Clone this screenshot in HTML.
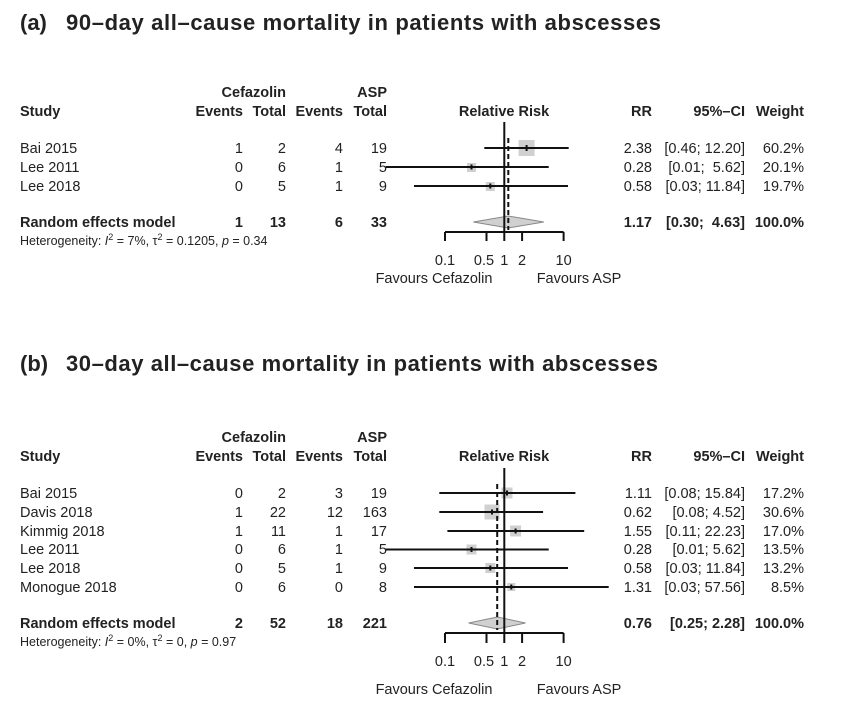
<!DOCTYPE html>
<html><head><meta charset="utf-8"><style>
body{margin:0;background:#fff}
svg{display:block;font-family:"Liberation Sans",Arial,sans-serif;fill:#222}
.b{font-weight:bold}
text{font-size:14.5px}
.t{font-size:22px;font-weight:bold}
.h{font-size:12.5px}
</style></head><body>
<svg width="862" height="706" viewBox="0 0 862 706" xmlns="http://www.w3.org/2000/svg">
<!-- Panel A -->
<text x="20" y="30" class="t">(a)</text>
<text x="66" y="30" class="t" textLength="595">90–day all–cause mortality in patients with abscesses</text>
<g class="b">
<text x="286" y="97" text-anchor="end">Cefazolin</text>
<text x="387" y="97" text-anchor="end">ASP</text>
<text x="20" y="116">Study</text>
<text x="243" y="116" text-anchor="end">Events</text>
<text x="286" y="116" text-anchor="end">Total</text>
<text x="343" y="116" text-anchor="end">Events</text>
<text x="387" y="116" text-anchor="end">Total</text>
<text x="504" y="116" text-anchor="middle">Relative Risk</text>
<text x="652" y="116" text-anchor="end">RR</text>
<text x="745" y="116" text-anchor="end">95%–CI</text>
<text x="804" y="116" text-anchor="end">Weight</text>
</g>
<g>
<text x="20" y="153">Bai 2015</text><text x="243" y="153" text-anchor="end">1</text><text x="286" y="153" text-anchor="end">2</text><text x="343" y="153" text-anchor="end">4</text><text x="387" y="153" text-anchor="end">19</text>
<text x="652" y="153" text-anchor="end">2.38</text><text x="745" y="153" text-anchor="end">[0.46; 12.20]</text><text x="804" y="153" text-anchor="end">60.2%</text>
<text x="20" y="172">Lee 2011</text><text x="243" y="172" text-anchor="end">0</text><text x="286" y="172" text-anchor="end">6</text><text x="343" y="172" text-anchor="end">1</text><text x="387" y="172" text-anchor="end">5</text>
<text x="652" y="172" text-anchor="end">0.28</text><text x="745" y="172" text-anchor="end" xml:space="preserve">[0.01;  5.62]</text><text x="804" y="172" text-anchor="end">20.1%</text>
<text x="20" y="191">Lee 2018</text><text x="243" y="191" text-anchor="end">0</text><text x="286" y="191" text-anchor="end">5</text><text x="343" y="191" text-anchor="end">1</text><text x="387" y="191" text-anchor="end">9</text>
<text x="652" y="191" text-anchor="end">0.58</text><text x="745" y="191" text-anchor="end">[0.03; 11.84]</text><text x="804" y="191" text-anchor="end">19.7%</text>
</g>
<g class="b">
<text x="20" y="227">Random effects model</text><text x="243" y="227" text-anchor="end">1</text><text x="286" y="227" text-anchor="end">13</text><text x="343" y="227" text-anchor="end">6</text><text x="387" y="227" text-anchor="end">33</text>
<text x="652" y="227" text-anchor="end">1.17</text><text x="745" y="227" text-anchor="end" xml:space="preserve">[0.30;  4.63]</text><text x="804" y="227" text-anchor="end">100.0%</text>
</g>
<text x="20" y="245" class="h">Heterogeneity: <tspan font-style="italic">I</tspan><tspan dy="-5" font-size="9">2</tspan><tspan dy="5"> = 7%, τ</tspan><tspan dy="-5" font-size="9">2</tspan><tspan dy="5"> = 0.1205, </tspan><tspan font-style="italic">p</tspan> = 0.34</text>
<g stroke="#111" stroke-width="2" fill="none">
<rect x="518.6" y="140" width="16" height="16" fill="#d0d0d0" stroke="none"/>
<rect x="467" y="163" width="9" height="9" fill="#d0d0d0" stroke="none"/>
<rect x="485.8" y="182" width="9" height="9" fill="#d0d0d0" stroke="none"/>
<line x1="484.3" y1="148" x2="568.7" y2="148"/><line x1="526.6" y1="145" x2="526.6" y2="151"/>
<line x1="385.7" y1="167" x2="548.7" y2="167"/><line x1="471.5" y1="164.5" x2="471.5" y2="169.5"/>
<line x1="414" y1="186" x2="568" y2="186"/><line x1="490.3" y1="183.5" x2="490.3" y2="188.5"/>
<polygon points="473.3,222 508.3,216 543.8,222 508.3,228" fill="#d0d0d0" stroke="#888" stroke-width="1"/>
<line x1="504.3" y1="122" x2="504.3" y2="232"/>
<line x1="508.3" y1="138" x2="508.3" y2="230" stroke-dasharray="5,3"/>
<line x1="445" y1="232" x2="563.6" y2="232"/>
<line x1="445" y1="232" x2="445" y2="241"/><line x1="486.5" y1="232" x2="486.5" y2="241"/><line x1="504.3" y1="232" x2="504.3" y2="241"/><line x1="522.1" y1="232" x2="522.1" y2="241"/><line x1="563.6" y1="232" x2="563.6" y2="241"/>
</g>
<g text-anchor="middle">
<text x="445" y="265">0.1</text><text x="484" y="265">0.5</text><text x="504.3" y="265">1</text><text x="522.1" y="265">2</text><text x="563.6" y="265">10</text>
</g>
<text x="434" y="283" text-anchor="middle">Favours Cefazolin</text>
<text x="579" y="283" text-anchor="middle">Favours ASP</text>

<!-- Panel B -->
<text x="20" y="371" class="t">(b)</text>
<text x="66" y="371" class="t" textLength="592">30–day all–cause mortality in patients with abscesses</text>
<g class="b">
<text x="286" y="442" text-anchor="end">Cefazolin</text>
<text x="387" y="442" text-anchor="end">ASP</text>
<text x="20" y="461">Study</text>
<text x="243" y="461" text-anchor="end">Events</text>
<text x="286" y="461" text-anchor="end">Total</text>
<text x="343" y="461" text-anchor="end">Events</text>
<text x="387" y="461" text-anchor="end">Total</text>
<text x="504" y="461" text-anchor="middle">Relative Risk</text>
<text x="652" y="461" text-anchor="end">RR</text>
<text x="745" y="461" text-anchor="end">95%–CI</text>
<text x="804" y="461" text-anchor="end">Weight</text>
</g>
<g xml:space="preserve">
<text x="20" y="498">Bai 2015</text><text x="243" y="498" text-anchor="end">0</text><text x="286" y="498" text-anchor="end">2</text><text x="343" y="498" text-anchor="end">3</text><text x="387" y="498" text-anchor="end">19</text>
<text x="652" y="498" text-anchor="end">1.11</text><text x="745" y="498" text-anchor="end">[0.08; 15.84]</text><text x="804" y="498" text-anchor="end">17.2%</text>
<text x="20" y="517">Davis 2018</text><text x="243" y="517" text-anchor="end">1</text><text x="286" y="517" text-anchor="end">22</text><text x="343" y="517" text-anchor="end">12</text><text x="387" y="517" text-anchor="end">163</text>
<text x="652" y="517" text-anchor="end">0.62</text><text x="745" y="517" text-anchor="end">[0.08;  4.52]</text><text x="804" y="517" text-anchor="end">30.6%</text>
<text x="20" y="536">Kimmig 2018</text><text x="243" y="536" text-anchor="end">1</text><text x="286" y="536" text-anchor="end">11</text><text x="343" y="536" text-anchor="end">1</text><text x="387" y="536" text-anchor="end">17</text>
<text x="652" y="536" text-anchor="end">1.55</text><text x="745" y="536" text-anchor="end">[0.11; 22.23]</text><text x="804" y="536" text-anchor="end">17.0%</text>
<text x="20" y="554">Lee 2011</text><text x="243" y="554" text-anchor="end">0</text><text x="286" y="554" text-anchor="end">6</text><text x="343" y="554" text-anchor="end">1</text><text x="387" y="554" text-anchor="end">5</text>
<text x="652" y="554" text-anchor="end">0.28</text><text x="745" y="554" text-anchor="end">[0.01;  5.62]</text><text x="804" y="554" text-anchor="end">13.5%</text>
<text x="20" y="573">Lee 2018</text><text x="243" y="573" text-anchor="end">0</text><text x="286" y="573" text-anchor="end">5</text><text x="343" y="573" text-anchor="end">1</text><text x="387" y="573" text-anchor="end">9</text>
<text x="652" y="573" text-anchor="end">0.58</text><text x="745" y="573" text-anchor="end">[0.03; 11.84]</text><text x="804" y="573" text-anchor="end">13.2%</text>
<text x="20" y="592">Monogue 2018</text><text x="243" y="592" text-anchor="end">0</text><text x="286" y="592" text-anchor="end">6</text><text x="343" y="592" text-anchor="end">0</text><text x="387" y="592" text-anchor="end">8</text>
<text x="652" y="592" text-anchor="end">1.31</text><text x="745" y="592" text-anchor="end">[0.03; 57.56]</text><text x="804" y="592" text-anchor="end">8.5%</text>
</g>
<g class="b" xml:space="preserve">
<text x="20" y="628">Random effects model</text><text x="243" y="628" text-anchor="end">2</text><text x="286" y="628" text-anchor="end">52</text><text x="343" y="628" text-anchor="end">18</text><text x="387" y="628" text-anchor="end">221</text>
<text x="652" y="628" text-anchor="end">0.76</text><text x="745" y="628" text-anchor="end">[0.25;  2.28]</text><text x="804" y="628" text-anchor="end">100.0%</text>
</g>
<text x="20" y="646" class="h">Heterogeneity: <tspan font-style="italic">I</tspan><tspan dy="-5" font-size="9">2</tspan><tspan dy="5"> = 0%, τ</tspan><tspan dy="-5" font-size="9">2</tspan><tspan dy="5"> = 0, </tspan><tspan font-style="italic">p</tspan> = 0.97</text>
<g stroke="#111" stroke-width="2" fill="none">
<rect x="501.5" y="487.5" width="11" height="11" fill="#d0d0d0" stroke="none"/>
<rect x="484.5" y="504.5" width="15" height="15" fill="#d0d0d0" stroke="none"/>
<rect x="510.1" y="525.5" width="11" height="11" fill="#d0d0d0" stroke="none"/>
<rect x="466.5" y="544.5" width="10" height="10" fill="#d0d0d0" stroke="none"/>
<rect x="485.3" y="563" width="10" height="10" fill="#d0d0d0" stroke="none"/>
<rect x="507.3" y="583" width="8" height="8" fill="#d0d0d0" stroke="none"/>
<line x1="439.3" y1="493" x2="575.4" y2="493"/><line x1="507" y1="490.5" x2="507" y2="495.5"/>
<line x1="439.3" y1="512" x2="543.1" y2="512"/><line x1="492" y1="509.5" x2="492" y2="514.5"/>
<line x1="447.4" y1="531" x2="584.2" y2="531"/><line x1="515.6" y1="528.5" x2="515.6" y2="533.5"/>
<line x1="385.7" y1="549.5" x2="548.7" y2="549.5"/><line x1="471.5" y1="547" x2="471.5" y2="552"/>
<line x1="414" y1="568" x2="568" y2="568"/><line x1="490.3" y1="565.5" x2="490.3" y2="570.5"/>
<line x1="414" y1="587" x2="608.7" y2="587"/><line x1="511.3" y1="584.5" x2="511.3" y2="589.5"/>
<polygon points="468.6,623 497.2,617 525.5,623 497.2,629" fill="#d0d0d0" stroke="#888" stroke-width="1"/>
<line x1="504.3" y1="468" x2="504.3" y2="633"/>
<line x1="497.2" y1="484" x2="497.2" y2="630" stroke-dasharray="5,3"/>
<line x1="445" y1="633" x2="563.6" y2="633"/>
<line x1="445" y1="633" x2="445" y2="643"/><line x1="486.5" y1="633" x2="486.5" y2="643"/><line x1="504.3" y1="633" x2="504.3" y2="643"/><line x1="522.1" y1="633" x2="522.1" y2="643"/><line x1="563.6" y1="633" x2="563.6" y2="643"/>
</g>
<g text-anchor="middle">
<text x="445" y="666">0.1</text><text x="484" y="666">0.5</text><text x="504.3" y="666">1</text><text x="522.1" y="666">2</text><text x="563.6" y="666">10</text>
</g>
<text x="434" y="694" text-anchor="middle">Favours Cefazolin</text>
<text x="579" y="694" text-anchor="middle">Favours ASP</text>
</svg>
</body></html>
